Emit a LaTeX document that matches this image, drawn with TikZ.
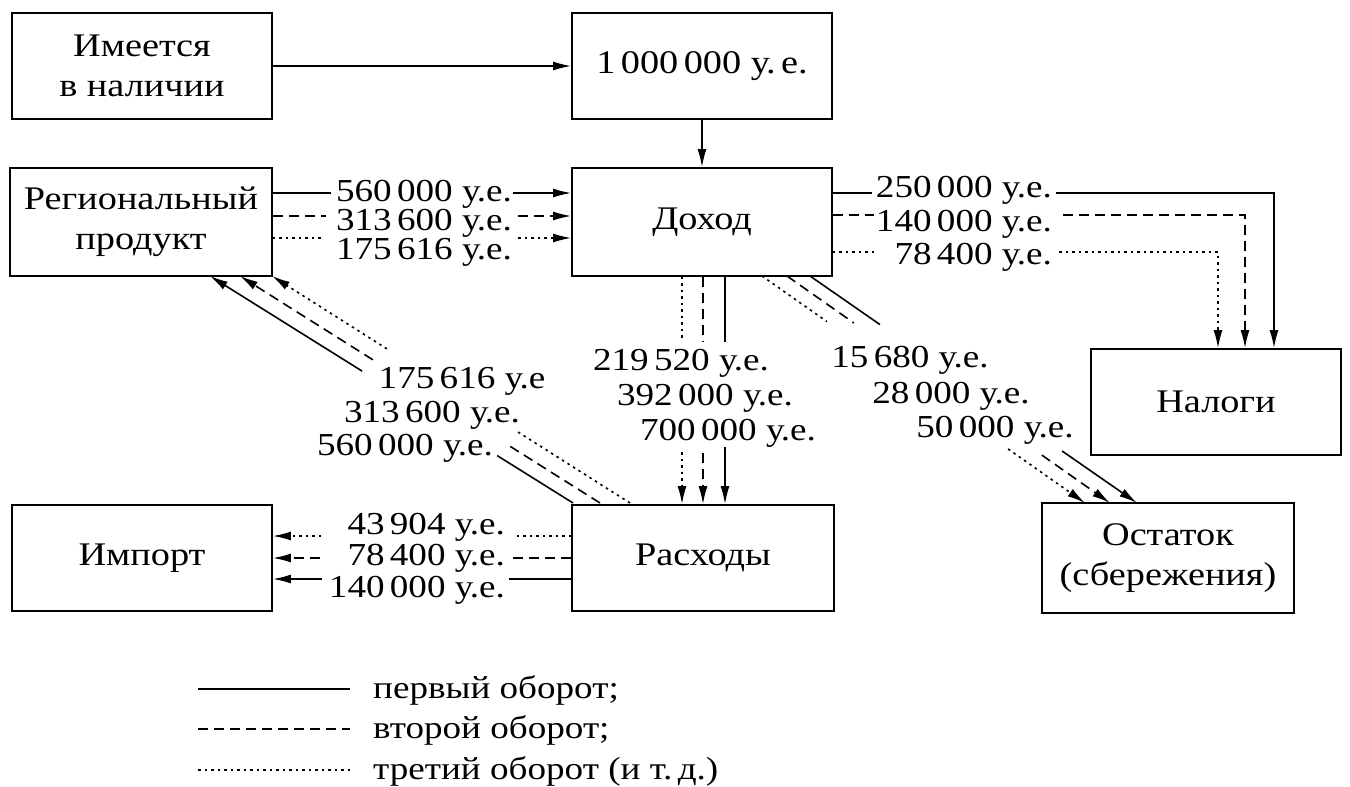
\documentclass[tikz,border=0pt]{standalone}
\usepackage{fontspec}
\setmainfont[FakeStretch=1.16]{Liberation Serif}
\usetikzlibrary{arrows.meta,calc}
\begin{document}
\begin{tikzpicture}[x=1pt,y=-1pt,
  box/.style={draw,line width=1.8pt,minimum width=260pt,minimum height=106pt,inner sep=0pt,align=center,font=\fontsize{33}{40}\selectfont},
  lbl/.style={inner sep=0pt,anchor=base,font=\fontsize{32}{38}\selectfont},
  lble/.style={lbl,anchor=base east},
  lblw/.style={lbl,anchor=base west},
  ln/.style={line width=1.6pt},
  fst/.style={ln},
  snd/.style={ln,dash pattern=on 10pt off 6pt},
  thd/.style={ln,dash pattern=on 2.5pt off 4pt},
  arr/.style={-{Latex[length=18pt,width=9pt]}},
]
\useasboundingbox[fill=white] (0,0) rectangle (1350,787);

% boxes
\node[box] (have) at (142,66) {Имеется\\в наличии};
\node[box] (mil) at (702,66) {1\,000\,000 у.\,е.};
\node[box,minimum width=262pt,minimum height=108pt] (rp) at (141,222) {Региональный\\продукт};
\node[box,minimum height=108pt] (doh) at (702,222) {Доход};
\node[box,minimum width=250pt] (nal) at (1216,402) {Налоги};
\node[box] (imp) at (142,558) {Импорт};
\node[box,minimum width=262pt] (ras) at (703,558) {Расходы};
\node[box,minimum width=252pt,minimum height=110pt] (ost) at (1168,558) {Остаток\\(сбережения)};

% top
\draw[fst,arr] (have) -- (mil);
\draw[fst,arr] (mil) -- (doh);

% Региональный продукт -> Доход
\node[lbl] (a1) at (424,201) {560\,000~у.е.};
\node[lbl] (a2) at (424,230) {313\,600~у.е.};
\node[lbl] (a3) at (424,259) {175\,616~у.е.};
\coordinate (a1l) at (331,193); \coordinate (a1r) at (513,193);
\coordinate (a2l) at (326,216); \coordinate (a2r) at (518,216);
\coordinate (a3l) at (322,238); \coordinate (a3r) at (518,238);
\draw[fst] (rp.east|-a1l) -- (a1l); \draw[fst,arr] (a1r) -- (doh.west|-a1r);
\draw[snd] (rp.east|-a2l) -- (a2l); \draw[snd,arr] (a2r) -- (doh.west|-a2r);
\draw[thd] (rp.east|-a3l) -- (a3l); \draw[thd,arr] (a3r) -- (doh.west|-a3r);

% Доход -> Налоги
\node[lble] (b1) at (1052,197) {250\,000~у.е.};
\node[lble] (b2) at (1052,231) {140\,000~у.е.};
\node[lble] (b3) at (1052,264) {78\,400~у.е.};
\coordinate (b1l) at (872,193); \coordinate (b1r) at (1056,193); \coordinate (b1c) at (1274,193);
\coordinate (b2l) at (874,215); \coordinate (b2r) at (1063,215); \coordinate (b2c) at (1245,215);
\coordinate (b3l) at (876,252); \coordinate (b3r) at (1059,252); \coordinate (b3c) at (1218,252);
\draw[fst] (doh.east|-b1l) -- (b1l); \draw[fst,arr] (b1r) -- (b1c) -- (b1c|-nal.north);
\draw[snd] (doh.east|-b2l) -- (b2l); \draw[snd,arr] (b2r) -- (b2c) -- (b2c|-nal.north);
\draw[thd] (doh.east|-b3l) -- (b3l); \draw[thd,arr] (b3r) -- (b3c) -- (b3c|-nal.north);

% Доход -> Расходы
\node[lbl] (c1) at (681,370) {219\,520~у.е.};
\node[lbl] (c2) at (705,405) {392\,000~у.е.};
\node[lbl] (c3) at (728,440) {700\,000~у.е.};
\coordinate (c1t) at (682,338); \coordinate (c1b) at (682,452);
\coordinate (c2t) at (703,342); \coordinate (c2b) at (703,453);
\coordinate (c3t) at (725,342); \coordinate (c3b) at (725,447);
\draw[thd] (doh.south-|c1t) -- (c1t); \draw[thd,arr] (c1b) -- (ras.north-|c1b);
\draw[snd] (doh.south-|c2t) -- (c2t); \draw[snd,arr] (c2b) -- (ras.north-|c2b);
\draw[fst] (doh.south-|c3t) -- (c3t); \draw[fst,arr] (c3b) -- (ras.north-|c3b);

% Доход -> Остаток
\node[lbl] (d1) at (910,367) {15\,680~у.е.};
\node[lbl] (d2) at (951,403) {28\,000~у.е.};
\node[lbl] (d3) at (995,437) {50\,000~у.е.};
\coordinate (d1s) at (810,276); \coordinate (d1e) at (1137,503);
\coordinate (d2s) at (787,276); \coordinate (d2e) at (1110,503);
\coordinate (d3s) at (762,276); \coordinate (d3e) at (1085,503);
\draw[fst] (d1s) -- ($(d1s)!0.214!(d1e)$); \draw[fst,arr] ($(d1s)!0.771!(d1e)$) -- (d1e);
\draw[snd] (d2s) -- ($(d2s)!0.207!(d2e)$); \draw[snd,arr] ($(d2s)!0.789!(d2e)$) -- (d2e);
\draw[thd] (d3s) -- ($(d3s)!0.201!(d3e)$); \draw[thd,arr] ($(d3s)!0.762!(d3e)$) -- (d3e);

% Расходы -> Региональный продукт
\node[lbl] (e1) at (462,388) {175\,616~у.е};
\node[lbl] (e2) at (432,422) {313\,600~у.е.};
\node[lbl] (e3) at (405,455) {560\,000~у.е.};
\coordinate (e3s) at (573,503); \coordinate (e3e) at (210,276);
\coordinate (e2s) at (600,503); \coordinate (e2e) at (240,276);
\coordinate (e1s) at (630,503); \coordinate (e1e) at (272,276);
\draw[fst] (e3s) -- ($(e3s)!0.209!(e3e)$); \draw[fst,arr] ($(e3s)!0.581!(e3e)$) -- (e3e);
\draw[snd] (e2s) -- ($(e2s)!0.25!(e2e)$); \draw[snd,arr] ($(e2s)!0.631!(e2e)$) -- (e2e);
\draw[thd] (e1s) -- ($(e1s)!0.316!(e1e)$); \draw[thd,arr] ($(e1s)!0.679!(e1e)$) -- (e1e);

% Расходы -> Импорт
\node[lble] (f1) at (505,534) {43\,904~у.е.};
\node[lble] (f2) at (505,565) {78\,400~у.е.};
\node[lble] (f3) at (505,597) {140\,000~у.е.};
\coordinate (f1r) at (515,536); \coordinate (f1l) at (321,536);
\coordinate (f2r) at (509,558); \coordinate (f2l) at (320,558);
\coordinate (f3r) at (509,579); \coordinate (f3l) at (322,579);
\draw[thd] (ras.west|-f1r) -- (f1r); \draw[thd,arr] (f1l) -- (imp.east|-f1l);
\draw[snd] (ras.west|-f2r) -- (f2r); \draw[snd,arr] (f2l) -- (imp.east|-f2l);
\draw[fst] (ras.west|-f3r) -- (f3r); \draw[fst,arr] (f3l) -- (imp.east|-f3l);

% legend
\coordinate (g1a) at (198,689); \coordinate (g1b) at (350,689);
\coordinate (g2a) at (198,729); \coordinate (g2b) at (350,729);
\coordinate (g3a) at (198,770); \coordinate (g3b) at (350,770);
\draw[fst] (g1a) -- (g1b);
\draw[snd] (g2a) -- (g2b);
\draw[thd] (g3a) -- (g3b);
\node[lblw] (h1) at (373,698) {первый оборот;};
\node[lblw] (h2) at (373,738) {второй оборот;};
\node[lblw] (h3) at (373,779) {третий оборот (и т.\,д.)};
\end{tikzpicture}
\end{document}
